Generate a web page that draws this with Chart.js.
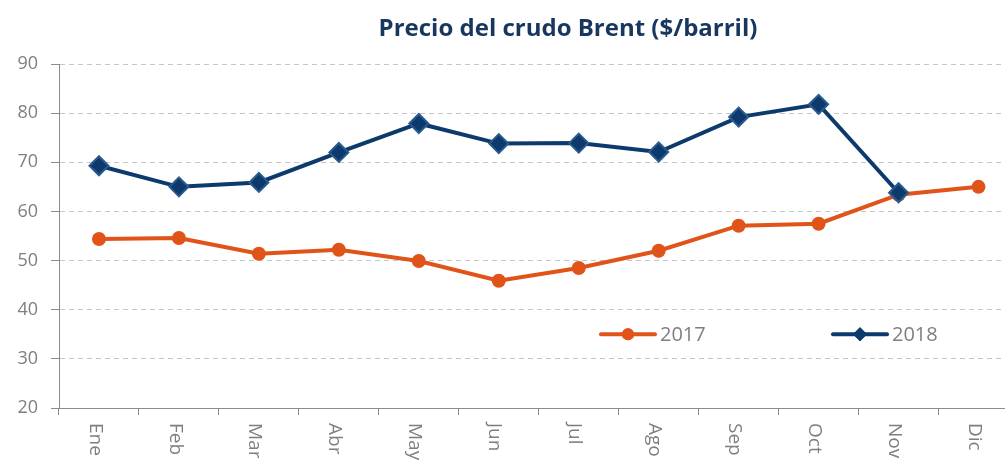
<!DOCTYPE html>
<html>
<head>
<meta charset="utf-8">
<script src="https://cdn.jsdelivr.net/npm/chart.js@4/dist/chart.umd.min.js"></script>
<style>
  html, body { margin: 0; padding: 0; background: #ffffff; overflow: hidden; }
  #wrap { width: 1030px; height: 462px; }
</style>
</head>
<body>
<div id="wrap"><canvas id="c" width="1030" height="462"></canvas></div>
<script>
const chartTitle = 'Precio del crudo Brent ($/barril)';
const months = ['Ene', 'Feb', 'Mar', 'Abr', 'May', 'Jun', 'Jul', 'Ago', 'Sep', 'Oct', 'Nov', 'Dic'];
const seriesNames = ['2017', '2018'];
const brent2017 = [54.4, 54.6, 51.4, 52.2, 49.9, 45.9, 48.5, 52.0, 57.1, 57.5, 63.4, 65.0];
const brent2018 = [69.3, 65.0, 65.9, 72.0, 77.9, 73.8, 73.9, 72.1, 79.2, 81.8, 63.8, null];
const yTicks = [20, 30, 40, 50, 60, 70, 80, 90];

const ORANGE = '#E0541A';
const NAVY = '#0D3A6C';
const GRAY = '#7F7F7F';

const decor = {
  id: 'decor',
  afterDraw(chart) {
    const ctx = chart.ctx;
    const xs = chart.scales.x;
    const ys = chart.scales.y;
    ctx.save();
    // title
    ctx.fillStyle = '#17375E';
    ctx.font = 'bold 24px "Open Sans"';
    ctx.textAlign = 'center';
    ctx.textBaseline = 'middle';
    ctx.fillText(chartTitle, 568, 29);
    // rotated x labels (reading top to bottom)
    ctx.fillStyle = GRAY;
    ctx.font = '19px "Open Sans"';
    ctx.textAlign = 'left';
    ctx.textBaseline = 'middle';
    months.forEach((m, i) => {
      const x = xs.getPixelForValue(i) - 4;
      ctx.save();
      ctx.translate(x, xs.top + 15);
      ctx.rotate(Math.PI / 2);
      ctx.fillText(m, 0, 0);
      ctx.restore();
    });
    // legend inside plot
    const ly = ys.getPixelForValue(35.0);
    const items = [
      { x: 601, color: ORANGE, style: 'circle', r: 6, label: seriesNames[0] },
      { x: 833, color: NAVY, style: 'rectRot', r: 7, label: seriesNames[1] }
    ];
    items.forEach(it => {
      ctx.strokeStyle = it.color;
      ctx.lineWidth = 4;
      ctx.lineCap = 'round';
      ctx.beginPath();
      ctx.moveTo(it.x, ly);
      ctx.lineTo(it.x + 54, ly);
      ctx.stroke();
      ctx.fillStyle = it.color;
      Chart.helpers.drawPoint(ctx, { pointStyle: it.style, radius: it.r, rotation: 0, borderWidth: 0 }, it.x + 27, ly);
      ctx.fill();
      ctx.fillStyle = GRAY;
      ctx.font = '20px "Open Sans"';
      ctx.textAlign = 'left';
      ctx.textBaseline = 'middle';
      ctx.fillText(it.label, it.x + 59, ly + 1);
    });
    ctx.restore();
  }
};

new Chart(document.getElementById('c'), {
  type: 'line',
  data: {
    labels: months,
    datasets: [
      {
        label: seriesNames[0],
        data: brent2017,
        borderColor: ORANGE,
        backgroundColor: ORANGE,
        borderWidth: 4,
        pointStyle: 'circle',
        pointRadius: 7,
        pointBorderWidth: 0,
        pointBackgroundColor: ORANGE,
        tension: 0,
        order: 1
      },
      {
        label: seriesNames[1],
        data: brent2018,
        borderColor: NAVY,
        backgroundColor: NAVY,
        borderWidth: 4,
        pointStyle: 'rectRot',
        pointRadius: 9.5,
        pointBorderWidth: 2,
        pointBorderColor: '#2B5A8E',
        pointBackgroundColor: NAVY,
        tension: 0,
        spanGaps: false,
        order: 0
      }
    ]
  },
  options: {
    responsive: false,
    animation: false,
    layout: { padding: { left: 0, right: 10, top: 64, bottom: 0 } },
    plugins: {
      legend: { display: false },
      title: { display: false },
      tooltip: { enabled: false }
    },
    scales: {
      x: {
        offset: true,
        grid: {
          offset: true,
          drawOnChartArea: false,
          drawTicks: true,
          tickLength: 7,
          tickColor: '#8C8C8C',
          tickWidth: 1
        },
        border: { display: true, color: '#8C8C8C', width: 1 },
        ticks: { display: false },
        afterFit(scale) { scale.height = 54; }
      },
      y: {
        min: 20,
        max: 90,
        afterBuildTicks(scale) { scale.ticks = yTicks.map(v => ({ value: v })); },
        grid: {
          color: '#C6C6C6',
          lineWidth: 1,
          drawTicks: true,
          tickLength: 8,
          tickColor: '#8C8C8C',
          tickBorderDash: []
        },
        border: { display: true, color: '#8C8C8C', width: 1, dash: [5, 4] },
        ticks: {
          color: GRAY,
          font: { family: '"Open Sans"', size: 18 },
          padding: 13
        },
        afterFit(scale) { scale.width = 59; }
      }
    }
  },
  plugins: [decor]
});
</script>
</body>
</html>
